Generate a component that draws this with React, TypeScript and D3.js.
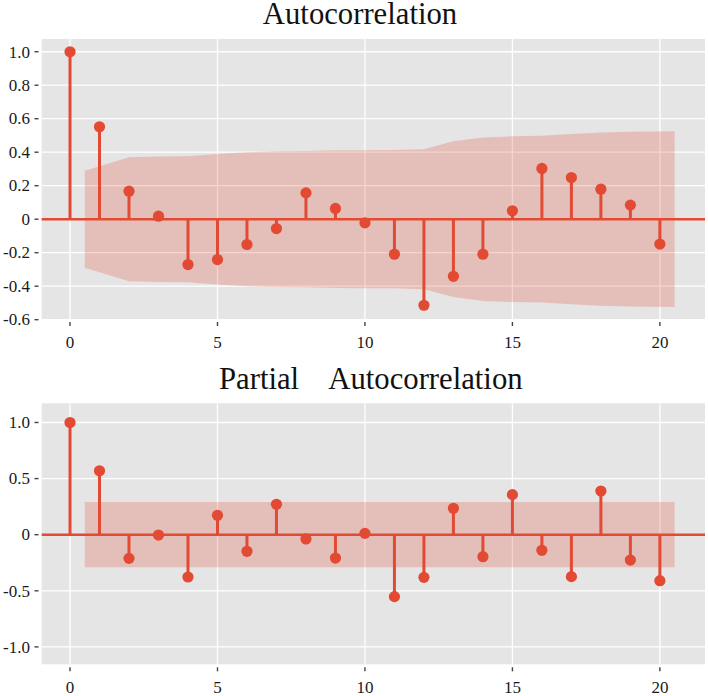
import React from "react";
import * as d3 from "d3";

// lags shown on both panels
const lags = [0, 1, 2, 3, 4, 5, 6, 7, 8, 9, 10, 11, 12, 13, 14, 15, 16, 17, 18, 19, 20];

// autocorrelation values
const acfValues = [
  1.0, 0.552, 0.167, 0.018, -0.271, -0.241, -0.151, -0.056, 0.157, 0.064, -0.022,
  -0.209, -0.514, -0.341, -0.209, 0.05, 0.303, 0.249, 0.179, 0.084, -0.149,
];

// partial autocorrelation values
const pacfValues = [
  1.0, 0.57, -0.211, -0.003, -0.377, 0.173, -0.148, 0.271, -0.038, -0.208, 0.012,
  -0.552, -0.38, 0.235, -0.196, 0.357, -0.139, -0.374, 0.389, -0.226, -0.41,
];

// confidence band: x positions and half widths
const bandLags = [0.5, 2, 3, 4, 5, 6, 7, 8, 9, 10, 11, 12, 13, 14, 15, 16, 17, 18, 19, 20.5];
const acfBand = [
  0.29, 0.37, 0.375, 0.376, 0.39, 0.4, 0.405, 0.407, 0.411, 0.412, 0.413, 0.418,
  0.465, 0.488, 0.495, 0.498, 0.508, 0.517, 0.522, 0.525,
];
const pacfBand = [
  0.291, 0.291, 0.291, 0.291, 0.291, 0.291, 0.291, 0.291, 0.291, 0.291, 0.291, 0.291,
  0.291, 0.291, 0.291, 0.291, 0.291, 0.291, 0.291, 0.291,
];

// tick values and labels
const acfTicks = [-0.6, -0.4, -0.2, 0, 0.2, 0.4, 0.6, 0.8, 1.0];
const acfTickLabels = ["-0.6", "-0.4", "-0.2", "0", "0.2", "0.4", "0.6", "0.8", "1.0"];
const pacfTicks = [-1.0, -0.5, 0, 0.5, 1.0];
const pacfTickLabels = ["-1.0", "-0.5", "0", "0.5", "1.0"];
const xTicks = [0, 5, 10, 15, 20];
const xTickLabels = ["0", "5", "10", "15", "20"];

const RED = "#E24A33";
const PANEL = "#E5E5E5";
const FONT = "'Liberation Serif', 'Times New Roman', serif";

const left = 41.7;
const right = 705;

const x = d3.scaleLinear().domain([-0.96, 21.53]).range([left, right]);

interface PanelProps {
  top: number;
  bottom: number;
  yDomain: [number, number];
  values: number[];
  band: number[];
  yTicks: number[];
  yLabels: string[];
}

function Panel({ top, bottom, yDomain, values, band, yTicks, yLabels }: PanelProps) {
  const y = d3.scaleLinear().domain(yDomain).range([bottom, top]);

  const bandPath =
    d3
      .area<number>()
      .x((_, i) => x(bandLags[i]))
      .y0((d) => y(-d))
      .y1((d) => y(d))(band) || "";

  return (
    <g>
      <rect x={left} y={top} width={right - left} height={bottom - top} fill={PANEL} />

      {/* grid */}
      {yTicks.map((t) => (
        <line key={"gy" + t} x1={left} x2={right} y1={y(t)} y2={y(t)} stroke="#fff" strokeWidth={1.3} />
      ))}
      {xTicks.map((t) => (
        <line key={"gx" + t} x1={x(t)} x2={x(t)} y1={top} y2={bottom} stroke="#fff" strokeWidth={1.3} />
      ))}

      {/* confidence band */}
      <path d={bandPath} fill={RED} fillOpacity={0.25} />

      {/* stems */}
      {lags.map((l, i) => (
        <line key={"s" + l} x1={x(l)} x2={x(l)} y1={y(0)} y2={y(values[i])} stroke={RED} strokeWidth={3} />
      ))}
      <line x1={left} x2={right} y1={y(0)} y2={y(0)} stroke={RED} strokeWidth={2.5} />
      {lags.map((l, i) => (
        <circle key={"m" + l} cx={x(l)} cy={y(values[i])} r={5.6} fill={RED} />
      ))}

      {/* y axis */}
      {yTicks.map((t, i) => (
        <g key={"ty" + t}>
          <line x1={34.5} x2={38.5} y1={y(t)} y2={y(t)} stroke="#444" strokeWidth={1.4} />
          <text
            x={30}
            y={y(t)}
            dy="0.34em"
            textAnchor="end"
            fontFamily={FONT}
            fontSize={17}
            fill="#1a1a1a"
          >
            {yLabels[i]}
          </text>
        </g>
      ))}

      {/* x axis */}
      {xTicks.map((t, i) => (
        <g key={"tx" + t}>
          <line x1={x(t)} x2={x(t)} y1={bottom + 3} y2={bottom + 7} stroke="#444" strokeWidth={1.4} />
          <text
            x={x(t)}
            y={bottom + 28.5}
            textAnchor="middle"
            fontFamily={FONT}
            fontSize={17}
            fill="#1a1a1a"
          >
            {xTickLabels[i]}
          </text>
        </g>
      ))}
    </g>
  );
}

export default function App() {
  return (
    <div style={{ position: "absolute", left: 0, top: 0 }}>
      <svg width={708} height={696} style={{ display: "block", background: "#fff" }}>
        <text x={360} y={24} textAnchor="middle" fontFamily={FONT} fontSize={30.7} fill="#111">
          Autocorrelation
        </text>
        <Panel
          top={39}
          bottom={319}
          yDomain={[-0.596, 1.076]}
          values={acfValues}
          band={acfBand}
          yTicks={acfTicks}
          yLabels={acfTickLabels}
        />

        <text y={389.3} fontFamily={FONT} fontSize={30.7} fill="#111">
          <tspan x={219}>Partial</tspan>
          <tspan x={328.3}>Autocorrelation</tspan>
        </text>
        <Panel
          top={403.3}
          bottom={664.3}
          yDomain={[-1.155, 1.171]}
          values={pacfValues}
          band={pacfBand}
          yTicks={pacfTicks}
          yLabels={pacfTickLabels}
        />
      </svg>
    </div>
  );
}
